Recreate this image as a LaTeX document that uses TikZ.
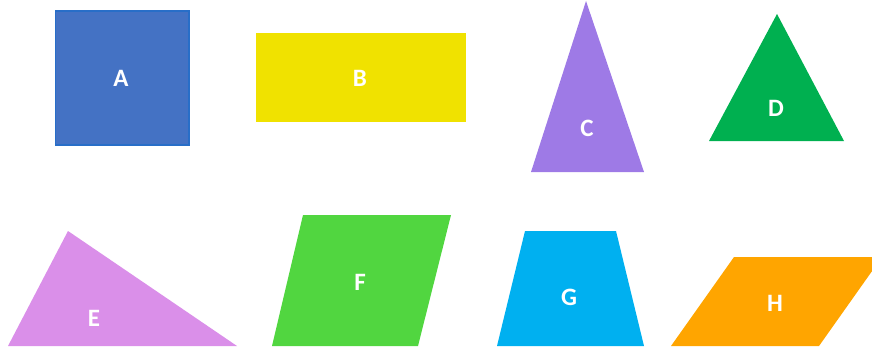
\documentclass[tikz,border=0pt]{standalone}
\usepackage{fontspec}
\setmainfont{Carlito}
\definecolor{cA}{RGB}{68,114,196}
\definecolor{cAb}{RGB}{40,110,200}
\definecolor{cB}{RGB}{240,226,0}
\definecolor{cC}{RGB}{158,122,230}
\definecolor{cD}{RGB}{0,176,80}
\definecolor{cE}{RGB}{218,143,233}
\definecolor{cF}{RGB}{81,214,64}
\definecolor{cG}{RGB}{0,176,240}
\definecolor{cH}{RGB}{255,165,0}
\tikzset{lbl/.style={text=white,font=\bfseries\fontsize{25}{25}\selectfont,inner sep=0pt}}
\begin{document}
\begin{tikzpicture}[x=1pt,y=-1pt]
\useasboundingbox (0,0) rectangle (872,350);
\clip (0,0) rectangle (872,350);
% A
\fill[cA,draw=cAb,line width=1.2pt] (55.5,11) rectangle (189,145);
\node[lbl] (a) at (121,78) {A};
% B
\fill[cB] (256,33) rectangle (466,122);
\node[lbl] (b) at (360,78) {B};
% C
\fill[cC] (586,1) -- (644,172) -- (531,172) -- cycle;
\node[lbl] (c) at (587,128) {C};
% D
\fill[cD] (777,14) -- (844,141) -- (709,141) -- cycle;
\node[lbl] (d) at (776,108) {D};
% E
\fill[cE] (68,231) -- (237,346) -- (8,346) -- cycle;
\node[lbl] (e) at (94,318) {E};
% F
\fill[cF] (303,215) -- (451,215) -- (418,346) -- (272,346) -- cycle;
\node[lbl] (f) at (360,282) {F};
% G
\fill[cG] (525,231) -- (616,231) -- (644,346) -- (497,346) -- cycle;
\node[lbl] (g) at (569,297) {G};
% H
\fill[cH] (734,257) -- (882,257) -- (819,346) -- (671,346) -- cycle;
\node[lbl] (h) at (775,303) {H};
\end{tikzpicture}
\end{document}
